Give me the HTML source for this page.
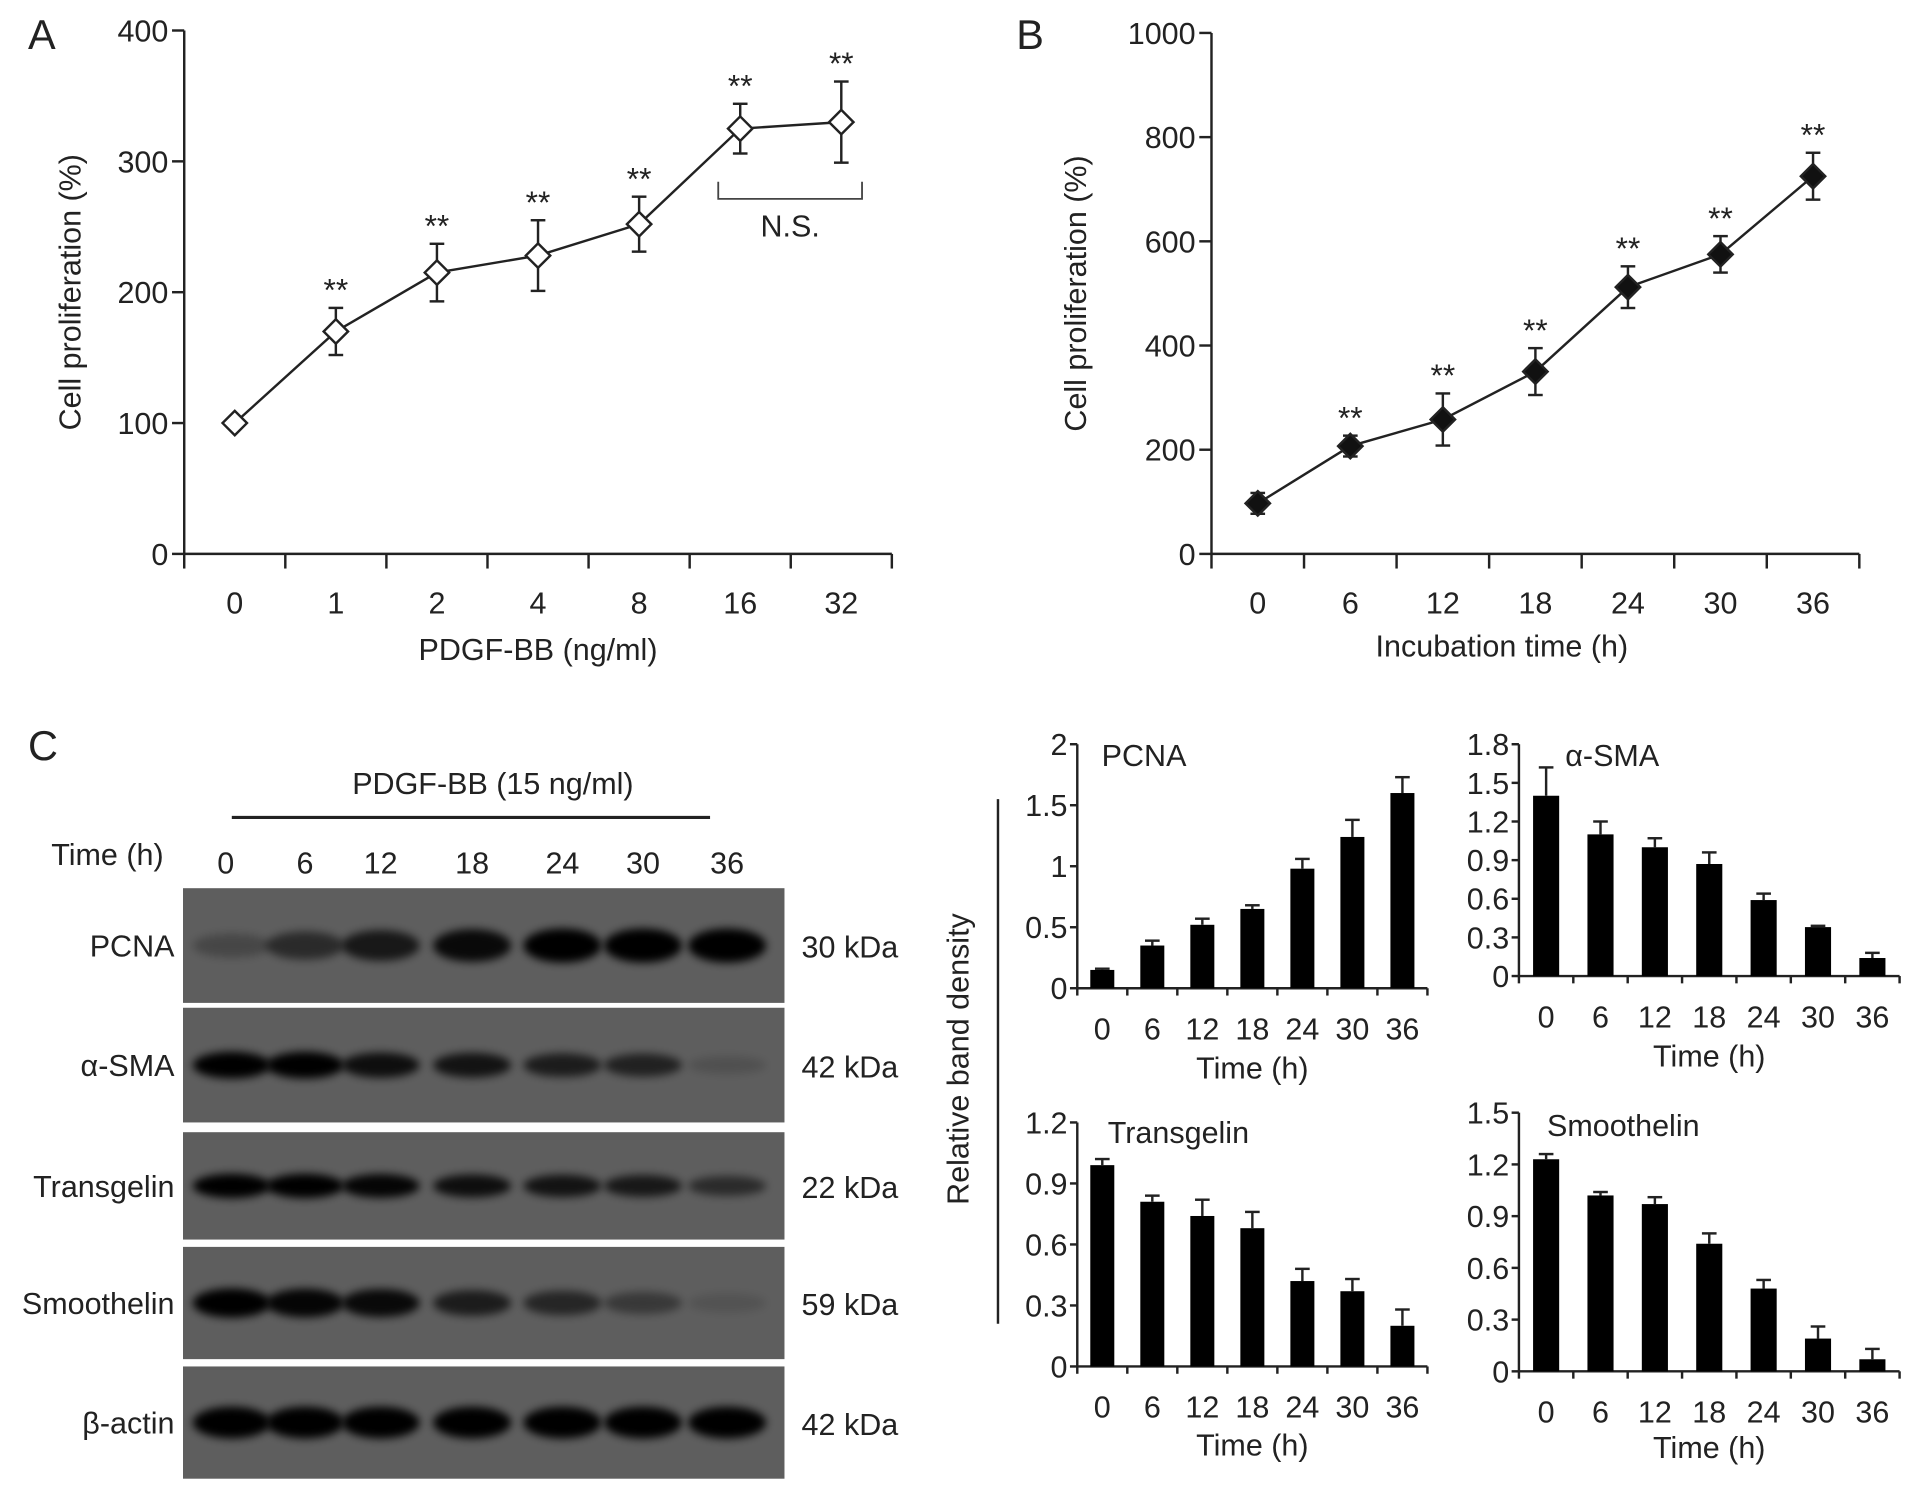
<!DOCTYPE html>
<html><head><meta charset="utf-8"><style>
html,body{margin:0;padding:0;background:#fff}
svg{display:block}
text{font-family:"Liberation Sans",sans-serif;fill:#222}
</style></head><body>
<svg id="fig" width="1913" height="1497" viewBox="0 0 1568 1227" preserveAspectRatio="none" xmlns="http://www.w3.org/2000/svg">
<defs><filter id="blur" x="-50%" y="-100%" width="200%" height="300%"><feGaussianBlur stdDeviation="3.5"/></filter></defs>
<g id="root"></g>
</svg>
<script>
// Panel A data
const aCats=["0","1","2","4","8","16","32"];
const aVals=[100,170,215,228,252,325,330];
const aErr=[0,18,22,27,21,19,31];
const aTicks=[0,100,200,300,400];
// Panel B data
const bCats=["0","6","12","18","24","30","36"];
const bVals=[97,207,258,350,512,575,725];
const bErr=[20,20,50,45,40,35,45];
const bTicks=[0,200,400,600,800,1000];
// Bar charts
const timeCats=["0","6","12","18","24","30","36"];
const pcnaVals=[0.15,0.35,0.52,0.65,0.98,1.24,1.60];
const pcnaErr=[0.01,0.04,0.05,0.03,0.08,0.14,0.13];
const pcnaTicks=["0","0.5","1","1.5","2"];
const smaVals=[1.40,1.10,1.00,0.87,0.59,0.38,0.14];
const smaErr=[0.22,0.10,0.07,0.09,0.05,0.01,0.04];
const smaTicks=["0","0.3","0.6","0.9","1.2","1.5","1.8"];
const tagVals=[0.99,0.81,0.74,0.68,0.42,0.37,0.20];
const tagErr=[0.03,0.03,0.08,0.08,0.06,0.06,0.08];
const tagTicks=["0","0.3","0.6","0.9","1.2"];
const smoVals=[1.23,1.02,0.97,0.74,0.48,0.19,0.07];
const smoErr=[0.03,0.02,0.04,0.06,0.05,0.07,0.06];
const smoTicks=["0","0.3","0.6","0.9","1.2","1.5"];
// Blot band intensities (0-1)
const blotRows=["PCNA","α-SMA","Transgelin","Smoothelin","β-actin"];
const blotKda=["30 kDa","42 kDa","22 kDa","59 kDa","42 kDa"];
const bandPCNA=[0.25,0.55,0.75,0.9,1,1,1];
const bandSMA=[1,1,0.85,0.8,0.7,0.65,0.15];
const bandTag=[1,1,0.95,0.85,0.8,0.75,0.55];
const bandSmo=[1,0.95,0.9,0.7,0.6,0.4,0.12];
const bandAct=[1,1,1,1,1,1,1];

const NS="http://www.w3.org/2000/svg";
const root=document.getElementById('root');
const FS=25;
function el(tag,attrs,parent,txt){const e=document.createElementNS(NS,tag);for(const k in attrs)e.setAttribute(k,attrs[k]);if(txt!==undefined)e.textContent=txt;(parent||root).appendChild(e);return e;}
function line(x1,y1,x2,y2,name,w){const l=el('line',{x1,y1,x2,y2,stroke:'#222','stroke-width':w||2});

return l;}
function text(x,y,s,size,anchor,name,extra){const t=el('text',Object.assign({x,y,'font-size':size,'text-anchor':anchor||'middle'},extra||{}),root,s);

return t;}

function lineChart(o){
  const {x0,x1,yTop,yBot,max,cats,vals,err,ticks,filled,label,lx,ly,ytx,xtitle,xtx,xty}=o;
  const n=cats.length, step=(x1-x0)/n;
  const X=i=>x0+step*(i+0.5), Y=v=>yBot-(v/max)*(yBot-yTop);
  text(lx,ly,label,34,'start','panel-label-'+label);
  line(x0,yTop,x0,yBot,'y-axis-'+label);
  line(x0,yBot,x1,yBot,'x-axis-'+label);
  ticks.forEach(t=>{line(x0-10,Y(t),x0,Y(t),'y-tick');text(x0-13,Y(t)+9,String(t),FS,'end','y-tick-label');});
  for(let i=0;i<=n;i++)line(x0+step*i,yBot,x0+step*i,yBot+12,'x-tick');
  cats.forEach((c,i)=>text(X(i),yBot+49,c,FS,'middle','x-tick-label'));
  text(ytx,(yTop+yBot)/2,'Cell proliferation (%)',FS,'middle','y-axis-title-'+label,{transform:`rotate(-90 ${ytx} ${(yTop+yBot)/2})`});
  text(xtx,xty,xtitle,FS,'middle','x-axis-title-'+label);
  const p=el('polyline',{points:vals.map((v,i)=>X(i)+','+Y(v)).join(' '),fill:'none',stroke:'#222','stroke-width':2});
  
  
  vals.forEach((v,i)=>{
    if(err[i]>0){const t=Y(v+err[i]),b=Y(v-err[i]);
      line(X(i),t,X(i),b,'error-bar');line(X(i)-6,t,X(i)+6,t,'error-cap');line(X(i)-6,b,X(i)+6,b,'error-cap');}
    const s=10,cx=X(i),cy=Y(v);
    const d=el('polygon',{points:`${cx},${cy-s} ${cx+s},${cy} ${cx},${cy+s} ${cx-s},${cy}`,fill:filled?'#111':'#fff',stroke:'#222','stroke-width':2});
    
    
    if(i>0)text(cx,Y(v+err[i])-6,'**',26,'middle','significance-mark',{fill:'#444'});
  });
  return {X,Y};
}
const A=lineChart({x0:151,x1:731,yTop:25,yBot:454,max:400,cats:aCats,vals:aVals,err:aErr,ticks:aTicks,filled:false,label:'A',lx:23,ly:40,ytx:66,xtitle:'PDGF-BB (ng/ml)',xtx:441,xty:541});
// NS bracket
const bx1=A.X(5)-18,bx2=A.X(6)+17,byT=149,byB=163;
const br=el('path',{d:`M${bx1},${byT} V${byB} H${bx2} V${byT}`,fill:'none',stroke:'#444','stroke-width':1.5});


text((bx1+bx2)/2,194,'N.S.',FS,'middle','ns-label');
lineChart({x0:993,x1:1524,yTop:27,yBot:454,max:1000,cats:bCats,vals:bVals,err:bErr,ticks:bTicks,filled:true,label:'B',lx:833,ly:40,ytx:890,xtitle:'Incubation time (h)',xtx:1231,xty:538});

// Panel C blots
text(23,623,'C',34,'start','panel-label-C');
text(404,651,'PDGF-BB (15 ng/ml)',FS,'middle','treatment-label');
line(190,670,582,670,'treatment-line',2.5);
text(42,709,'Time (h)',FS,'start','time-label');
const laneX=[185,250,312,387,461,527,596];
timeCats.forEach((c,i)=>text(laneX[i],716,c,FS,'middle','lane-label'));
const rowY=[[728,822],[826,920],[928,1016],[1022,1114],[1120,1212]];
const bands=[bandPCNA,bandSMA,bandTag,bandSmo,bandAct];
const bandH=[28,22,20,24,26];
rowY.forEach((r,k)=>{
  const rc=el('rect',{x:150,y:r[0],width:493,height:r[1]-r[0],fill:'#5e5e5e'});
  
  
  const cy=(r[0]+r[1])/2;
  bands[k].forEach((v,i)=>{
    const b=el('ellipse',{cx:laneX[i]+(i==0?5:0),cy,rx:32,ry:bandH[k]/2*(0.6+0.4*v),fill:'#050505','fill-opacity':v,filter:'url(#blur)'});
    
    
  });
  text(143,cy+9,blotRows[k],FS,'end','row-label');
  text(657,cy+10,blotKda[k],FS,'start','kda-label');
});

// Bar charts
text(794,868,'Relative band density',FS,'middle','y-axis-title-bars',{transform:'rotate(-90 794 868)'});
line(818,655,818,1085,'bracket-line');
function barChart(o){
  const {x0,x1,yTop,yBot,max,vals,err,ticks,title,tx,ty,xly,xtly}=o;
  const n=timeCats.length, step=(x1-x0)/n;
  const X=i=>x0+step*(i+0.5), Y=v=>yBot-(v/max)*(yBot-yTop);
  line(x0,yTop,x0,yBot,'y-axis-'+title);
  line(x0,yBot,x1,yBot,'x-axis-'+title);
  ticks.forEach(t=>{const v=parseFloat(t);line(x0-6,Y(v),x0,Y(v),'y-tick');text(x0-8,Y(v)+9,t,FS,'end','y-tick-label');});
  for(let i=0;i<=n;i++)line(x0+step*i,yBot,x0+step*i,yBot+6,'x-tick');
  timeCats.forEach((c,i)=>text(X(i),xly,c,FS,'middle','x-tick-label'));
  text((x0+x1)/2,xtly,'Time (h)',FS,'middle','x-axis-title');
  text(tx,ty,title,FS,'start','chart-title-'+title);
  vals.forEach((v,i)=>{const w=step*0.48;
    const r=el('rect',{x:X(i)-w/2,y:Y(v),width:w,height:yBot-Y(v),fill:'#000'});
    
    
    const t=Y(v+err[i]);line(X(i),Y(v),X(i),t,'error-bar');line(X(i)-6,t,X(i)+6,t,'error-cap');});
}
barChart({x0:883,x1:1170,yTop:610,yBot:810,max:2,vals:pcnaVals,err:pcnaErr,ticks:pcnaTicks,title:'PCNA',tx:903,ty:628,xly:852,xtly:884});
barChart({x0:1245,x1:1557,yTop:610,yBot:800,max:1.8,vals:smaVals,err:smaErr,ticks:smaTicks,title:'α-SMA',tx:1283,ty:628,xly:842,xtly:874});
barChart({x0:883,x1:1170,yTop:920,yBot:1120,max:1.2,vals:tagVals,err:tagErr,ticks:tagTicks,title:'Transgelin',tx:908,ty:937,xly:1162,xtly:1193});
barChart({x0:1245,x1:1557,yTop:912,yBot:1124,max:1.5,vals:smoVals,err:smoErr,ticks:smoTicks,title:'Smoothelin',tx:1268,ty:931,xly:1166,xtly:1195});
</script>
</body></html>
